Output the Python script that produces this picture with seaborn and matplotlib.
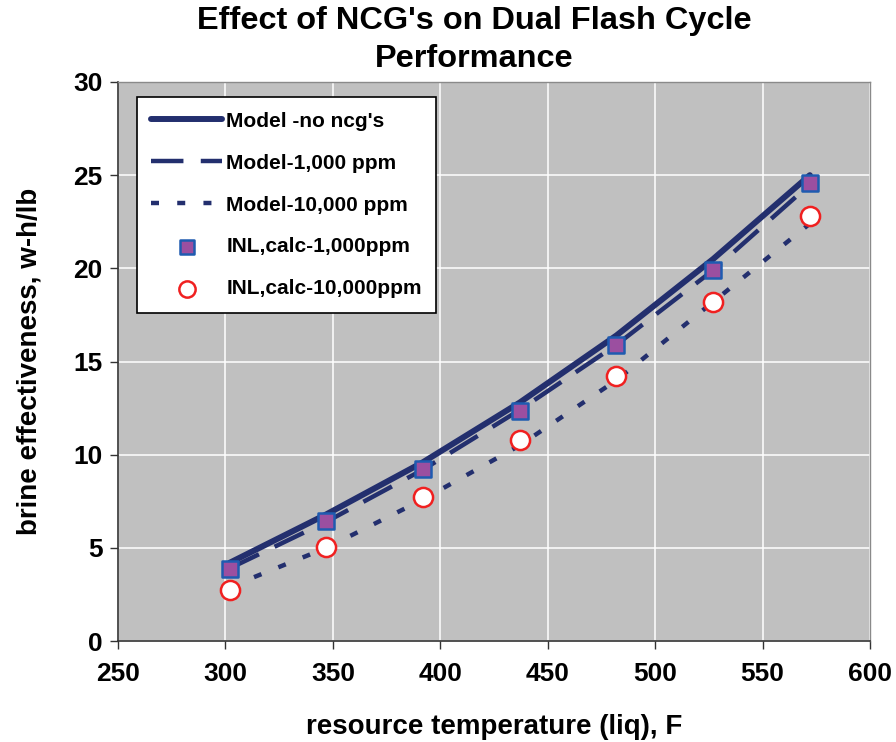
import matplotlib
matplotlib.use("Agg")
import matplotlib.pyplot as plt
import seaborn as sns
import pandas as pd

temps = [302, 347, 392, 437, 482, 527, 572]
model_no_ncg = [4.2, 6.8, 9.6, 12.8, 16.4, 20.5, 25.0]
model_1000 = [3.9, 6.4, 9.2, 12.4, 15.9, 19.9, 24.5]
model_10000 = [2.9, 5.0, 7.6, 10.5, 14.0, 18.2, 22.4]
inl_1000 = [3.86, 6.44, 9.23, 12.35, 15.9, 19.9, 24.6]
inl_10000 = [2.74, 5.05, 7.73, 10.8, 14.2, 18.2, 22.8]

sns.set_theme(style="white")
plt.rcParams['font.family'] = ['Liberation Sans', 'DejaVu Sans']
plt.rcParams['text.color'] = 'black'
plt.rcParams['axes.labelcolor'] = 'black'
plt.rcParams['xtick.color'] = 'black'
plt.rcParams['ytick.color'] = 'black'

df = pd.DataFrame({"T": temps, "m0": model_no_ncg, "m1": model_1000, "m10": model_10000,
                   "i1": inl_1000, "i10": inl_10000})

fig = plt.figure(figsize=(8.96, 7.42), dpi=100)
ax = fig.add_axes([0.1317, 0.1361, 0.971 - 0.1317, 0.8895 - 0.1361])
ax.set_facecolor("#C0C0C0")

navy = "#232F6E"
sns.lineplot(data=df, x="T", y="m0", ax=ax, color=navy, lw=4.3, label="Model -no ncg's",
             solid_capstyle="round")
sns.lineplot(data=df, x="T", y="m1", ax=ax, color=navy, lw=3.2, label="Model-1,000 ppm")
ax.lines[-1].set_dashes([7.3, 3.9])
sns.lineplot(data=df, x="T", y="m10", ax=ax, color=navy, lw=3.2, label="Model-10,000 ppm")
ax.lines[-1].set_dashes([1.8, 4.1])
sns.scatterplot(data=df, x="T", y="i1", ax=ax, marker="s", s=140, color="#9B4FA0",
                edgecolor="#1F5BB0", linewidth=1.8, label="INL,calc-1,000ppm", zorder=5)
sns.scatterplot(data=df, x="T", y="i10", ax=ax, marker="o", s=190, color="white",
                edgecolor="#F02020", linewidth=1.8, label="INL,calc-10,000ppm", zorder=5)

ax.set_xlim(250, 600)
ax.set_ylim(0, 30)
ax.set_xticks(range(250, 601, 50))
ax.set_yticks(range(0, 31, 5))
ax.grid(True, color="white", lw=1.1)
ax.set_axisbelow(True)
for s in ["top", "right"]:
    ax.spines[s].set_color("#8a8a8a")
    ax.spines[s].set_linewidth(1.0)
for s in ["left", "bottom"]:
    ax.spines[s].set_color("#333333")
    ax.spines[s].set_linewidth(1.2)
ax.tick_params(axis="both", which="both", direction="out", length=6, width=1,
               color="#333333", labelsize=19, bottom=True, left=True)
ax.tick_params(axis="x", pad=9)
ax.tick_params(axis="y", pad=5)
for lab in ax.get_xticklabels() + ax.get_yticklabels():
    lab.set_fontweight("bold")

ax.set_xlabel("resource temperature (liq), F", fontsize=20, fontweight="bold", labelpad=20)
ax.set_ylabel("brine effectiveness, w-h/lb", fontsize=20, fontweight="bold", labelpad=22)
fig.text(0.529, 0.992, "Effect of NCG's on Dual Flash Cycle\nPerformance", fontsize=23.4,
         fontweight="bold", ha="center", va="top", linespacing=1.35)

leg = ax.legend(loc="upper left", bbox_to_anchor=(0.025, 0.973), frameon=True, fancybox=False,
                edgecolor="black", framealpha=1, facecolor="white", handlelength=3.4,
                labelspacing=1.1, borderpad=0.7, handletextpad=0.2, borderaxespad=0,
                markerscale=0.85, prop={"weight": "bold", "size": 15})
leg.get_frame().set_linewidth(1.2)

fig.savefig("out.png", dpi=100)
